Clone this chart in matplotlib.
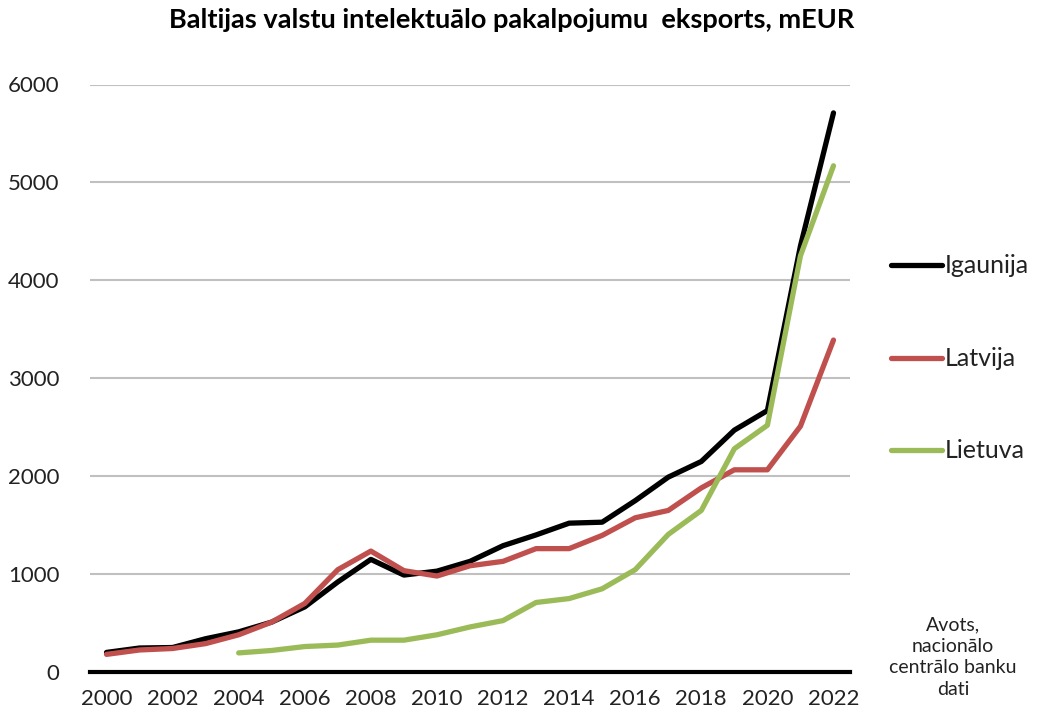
import matplotlib
matplotlib.use("Agg")
import matplotlib.pyplot as plt
import numpy as np

years = list(range(2000, 2023))
igaunija = [200, 245, 250, 340, 410, 510, 665, 920, 1150, 990, 1030, 1130, 1290,
            1400, 1520, 1530, 1750, 1990, 2150, 2470, 2670, 4350, 5710]
latvija = [180, 225, 240, 290, 380, 510, 700, 1045, 1235, 1035, 980, 1085, 1130,
           1260, 1260, 1395, 1575, 1650, 1880, 2065, 2065, 2510, 3390]
lietuva = [np.nan, np.nan, np.nan, np.nan, 195, 220, 260, 275, 325, 325, 380, 460,
           525, 710, 750, 850, 1045, 1405, 1650, 2280, 2520, 4250, 5170]
series_names = ["Igaunija", "Latvija", "Lietuva"]
series_colors = ["#000000", "#C0504D", "#9BBB59"]
title = "Baltijas valstu intelektuālo pakalpojumu  eksports, mEUR"
note = "Avots,\nnacionālo\ncentrālo banku\ndati"

plt.rcParams["font.family"] = ["Lato", "DejaVu Sans"]

fig = plt.figure(figsize=(10.38, 7.19), dpi=100)
ax = fig.add_axes([90 / 1038, 1 - 672 / 719, 760 / 1038, (672 - 84.5) / 719])

for vals, name, col in zip([igaunija, latvija, lietuva], series_names, series_colors):
    ax.plot(years, vals, color=col, lw=3.8, solid_joinstyle="round",
            solid_capstyle="round", label=name, zorder=3)

ax.set_xlim(1999.5, 2022.5)
ax.set_ylim(0, 6000)
ax.set_yticks(range(0, 6001, 1000))
ax.set_xticks(years[::2])
ax.tick_params(axis="both", length=0, labelsize=16, colors="#222222")
ax.tick_params(axis="x", pad=12)
ax.tick_params(axis="y", pad=22)
ax.grid(axis="y", color="#c0c0c0", lw=1.5, zorder=0)
for s in ["top", "right", "left"]:
    ax.spines[s].set_visible(False)
ax.spines["bottom"].set_linewidth(3)
ax.spines["bottom"].set_zorder(4)

fig.text(512 / 1038, 1 - 20 / 719, title, ha="center", va="center",
         fontsize=19.5, fontweight="bold")

# legend drawn as a column to the right of the plot
leg_y = [265, 358, 450]
for y, name, col in zip(leg_y, series_names, series_colors):
    yf = 1 - y / 719
    fig.add_artist(plt.Line2D([891 / 1038, 942 / 1038], [yf, yf], color=col,
                              lw=3.8, solid_capstyle="round",
                              transform=fig.transFigure))
    fig.text(945 / 1038, yf, name, ha="left", va="center", fontsize=18,
             color="#222222")

fig.text(953 / 1038, 1 - 657 / 719, note, ha="center", va="center",
         fontsize=14, color="#222222", linespacing=1.32)

fig.savefig("out.png", dpi=100)
